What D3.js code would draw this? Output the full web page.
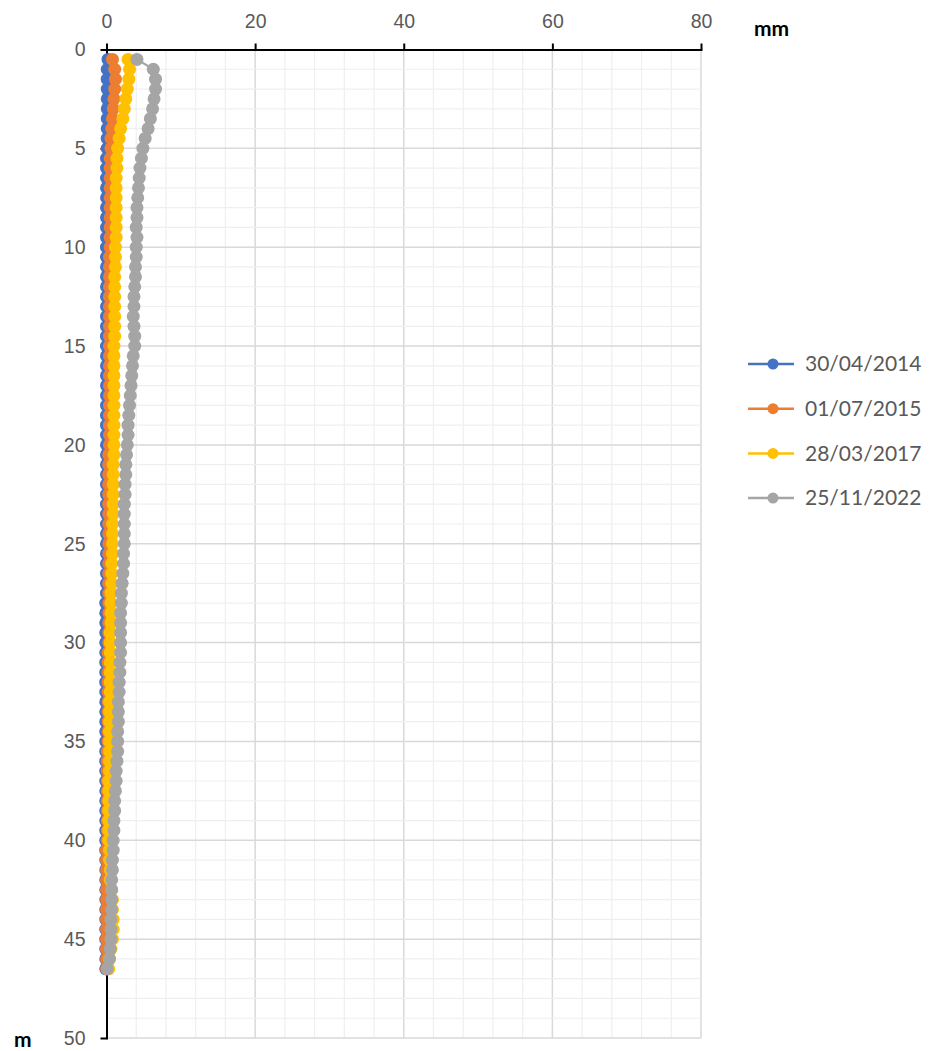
<!DOCTYPE html>
<html>
<head>
<meta charset="utf-8">
<script src="https://d3js.org/d3.v7.min.js"></script>
<style>
  body { margin: 0; background: #fff; }
  svg { display: block; font-family: Lato, "Open Sans", sans-serif; }
  .tick text { font-size: 19.5px; fill: #595959; }
</style>
</head>
<body>
<script>
  // depth of each reading (m)
  var depths = [0.5,1,1.5,2,2.5,3,3.5,4,4.5,5,5.5,6,6.5,7,7.5,8,8.5,9,9.5,10,
    10.5,11,11.5,12,12.5,13,13.5,14,14.5,15,15.5,16,16.5,17,17.5,18,18.5,19,19.5,20,
    20.5,21,21.5,22,22.5,23,23.5,24,24.5,25,25.5,26,26.5,27,27.5,28,28.5,29,29.5,30,
    30.5,31,31.5,32,32.5,33,33.5,34,34.5,35,35.5,36,36.5,37,37.5,38,38.5,39,39.5,40,
    40.5,41,41.5,42,42.5,43,43.5,44,44.5,45,45.5,46,46.5];

  // displacement (mm) per survey
  var s2014 = [0.2,0.1,0.1,0.1,0.1,0.1,0.1,0.1,0.1,0.1,0.0,0.0,0.0,0.0,0.0,0.0,0.0,0.0,0.0,0.0,
    0.0,0.0,0.0,0.0,0.0,0.0,0.0,0.0,0.0,0.0,0.0,0.0,0.0,0.0,0.0,0.0,0.0,0.0,0.0,0.0,
    0.0,0.0,0.0,0.0,0.0,0.0,0.0,0.0,0.0,0.0,0.0,0.0,0.0,0.0,0.0,-0.1,-0.1,-0.1,-0.1,-0.1,
    -0.1,-0.1,-0.1,-0.1,-0.1,-0.1,-0.1,-0.1,-0.1,-0.1,-0.1,-0.1,-0.1,-0.1,-0.1,-0.1,-0.1,-0.1,-0.1,-0.1,
    -0.1,-0.1,-0.1,-0.1,-0.1,-0.1,-0.1,-0.1,-0.1,-0.1,-0.1,-0.1,-0.1];
  var s2015 = [0.8,1.1,1.2,1.1,1.0,0.9,0.8,0.7,0.6,0.6,0.5,0.5,0.5,0.5,0.5,0.5,0.5,0.5,0.5,0.5,
    0.4,0.4,0.4,0.4,0.4,0.4,0.4,0.4,0.4,0.4,0.4,0.4,0.4,0.4,0.4,0.4,0.4,0.4,0.4,0.4,
    0.3,0.3,0.3,0.3,0.3,0.3,0.3,0.3,0.3,0.3,0.3,0.3,0.3,0.3,0.3,0.3,0.3,0.3,0.3,0.3,
    0.2,0.2,0.2,0.2,0.2,0.2,0.2,0.2,0.2,0.2,0.1,0.1,0.1,0.1,0.1,0.1,0.1,0.1,0.1,0.1,
    0.0,0.0,0.0,0.0,0.0,0.0,0.0,0.0,0.0,0.0,0.0,0.0,0.0];
  var s2017 = [2.9,3.1,3.0,2.8,2.6,2.4,2.2,1.9,1.7,1.5,1.4,1.4,1.3,1.3,1.3,1.3,1.3,1.3,1.3,1.2,
    1.2,1.2,1.1,1.1,1.1,1.1,1.1,1.1,1.1,1.0,1.0,1.0,1.0,1.0,1.0,1.0,1.0,1.0,1.0,1.0,
    1.0,0.9,0.9,0.9,0.9,0.9,0.9,0.8,0.8,0.8,0.8,0.7,0.7,0.7,0.6,0.6,0.6,0.6,0.5,0.5,
    0.5,0.5,0.5,0.5,0.5,0.4,0.4,0.4,0.4,0.4,0.4,0.4,0.4,0.3,0.3,0.3,0.3,0.3,0.3,0.3,
    0.4,0.4,0.5,0.5,0.7,0.8,0.8,0.9,0.9,0.8,0.6,0.4,0.3];
  var s2022 = [4.1,6.3,6.6,6.6,6.4,6.2,5.9,5.6,5.2,4.9,4.7,4.5,4.4,4.3,4.2,4.1,4.1,4.0,4.1,4.0,
    4.0,3.9,3.9,3.8,3.7,3.7,3.6,3.7,3.8,3.8,3.6,3.5,3.4,3.3,3.2,3.1,3.0,2.9,2.9,2.8,
    2.7,2.6,2.6,2.5,2.5,2.4,2.4,2.4,2.4,2.4,2.3,2.3,2.2,2.1,2.0,2.0,1.9,1.9,1.9,1.9,
    1.9,1.8,1.8,1.7,1.7,1.6,1.6,1.6,1.5,1.5,1.5,1.4,1.3,1.3,1.2,1.1,1.1,1.0,1.0,0.9,
    0.9,0.8,0.8,0.7,0.7,0.7,0.7,0.6,0.6,0.6,0.5,0.4,0.1];

  var seriesNames = ['30/04/2014', '01/07/2015', '28/03/2017', '25/11/2022'];
  var seriesValues = [s2014, s2015, s2017, s2022];
  var colors = ['#4472C4', '#ED7D31', '#FFC000', '#A5A5A5'];

  var xTicks = [0, 20, 40, 60, 80];
  var yTicks = [0, 5, 10, 15, 20, 25, 30, 35, 40, 45, 50];

  var width = 930, height = 1051;
  var margin = {top: 49.5, left: 106.5, right: 229, bottom: 13};
  var radius = 6.5;

  var svg = d3.select('body').append('svg')
    .attr('width', width)
    .attr('height', height);

  var x = d3.scaleLinear().domain([0, 80]).range([margin.left, width - margin.right]);
  var y = d3.scaleLinear().domain([0, 50]).range([margin.top, height - margin.bottom]);

  // gridlines (minor first, major on top)
  var grid = svg.append('g');
  grid.selectAll('.vminor').data(d3.range(4, 81, 4)).enter().append('line')
    .attr('x1', d => x(d)).attr('x2', d => x(d))
    .attr('y1', y(0)).attr('y2', y(50))
    .attr('stroke', d => d % 20 == 0 ? '#d9d9d9' : '#efefef')
    .attr('stroke-width', d => d % 20 == 0 ? 1.5 : 1.2);
  grid.selectAll('.hminor').data(d3.range(1, 51, 1)).enter().append('line')
    .attr('x1', x(0)).attr('x2', x(80))
    .attr('y1', d => y(d)).attr('y2', d => y(d))
    .attr('stroke', d => d % 5 == 0 ? '#d9d9d9' : '#efefef')
    .attr('stroke-width', d => d % 5 == 0 ? 1.5 : 1.2);

  // y axis (drawn under the data, as in the original)
  var yAxis = svg.append('g')
    .attr('transform', 'translate(' + x(0) + ',0)')
    .call(d3.axisLeft(y).tickValues(yTicks).tickSizeInner(6).tickSizeOuter(0).tickPadding(15));
  yAxis.selectAll('path, line').attr('stroke', '#000').attr('stroke-width', 2);

  // series
  var line = d3.line()
    .x(d => x(d.v))
    .y(d => y(d.depth));

  seriesValues.forEach(function(vals, i) {
    var pts = vals.map((v, j) => ({depth: depths[j], v: v}));
    var g = svg.append('g');
    g.append('path')
      .datum(pts)
      .attr('d', line)
      .attr('fill', 'none')
      .attr('stroke', colors[i])
      .attr('stroke-width', 2.25);
    g.selectAll('circle').data(pts).enter().append('circle')
      .attr('cx', d => x(d.v))
      .attr('cy', d => y(d.depth))
      .attr('r', radius)
      .attr('fill', colors[i]);
  });

  // x axis on top
  var xAxis = svg.append('g')
    .attr('transform', 'translate(0,' + y(0) + ')')
    .call(d3.axisTop(x).tickValues(xTicks).tickSizeInner(6).tickSizeOuter(0).tickPadding(16));
  xAxis.selectAll('path, line').attr('stroke', '#000').attr('stroke-width', 2);

  svg.selectAll('.domain').attr('stroke-linecap', 'square');

  // unit labels
  svg.append('text')
    .attr('x', 754).attr('y', 36)
    .style('font-size', '21px').style('font-weight', 'bold').attr('fill', '#000')
    .text('mm');
  svg.append('text')
    .attr('x', 14).attr('y', 1047)
    .style('font-size', '21px').style('font-weight', 'bold').attr('fill', '#000')
    .text('m');

  // legend
  var legend = svg.append('g').attr('transform', 'translate(748,364)');
  var items = legend.selectAll('g').data(seriesNames).enter().append('g')
    .attr('transform', (d, i) => 'translate(0,' + (i * 44.7) + ')');
  items.append('line')
    .attr('x1', 0).attr('x2', 46).attr('y1', 0).attr('y2', 0)
    .attr('stroke', (d, i) => colors[i]).attr('stroke-width', 2.5);
  items.append('circle')
    .attr('cx', 25).attr('cy', 0).attr('r', 5.5)
    .attr('fill', (d, i) => colors[i]);
  items.append('text')
    .attr('x', 57).attr('y', 0).attr('dy', '0.35em')
    .style('font-size', '21px').attr('fill', '#595959')
    .text(d => d);
</script>
</body>
</html>
